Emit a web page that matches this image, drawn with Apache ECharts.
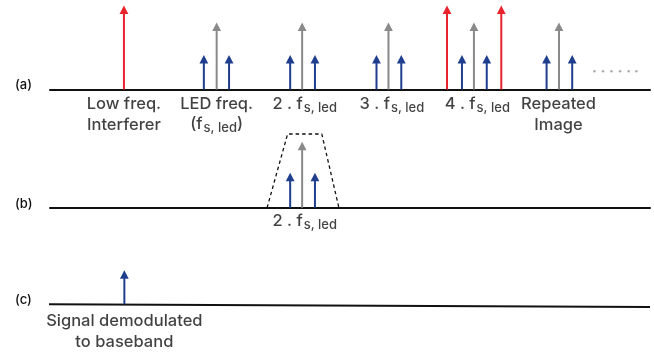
<!DOCTYPE html>
<html>
<head>
<meta charset="utf-8">
<script src="https://cdn.jsdelivr.net/npm/echarts@6/dist/echarts.min.js"></script>
<style>
  html, body { margin: 0; padding: 0; background: #fff; }
  #chart { width: 654px; height: 354px; }
</style>
</head>
<body>
<div id="chart"></div>
<script>
// ---- spectrum data (frequency in arbitrary units, amplitude in arbitrary units) ----
// (a) sampled spectrum
const carrierFreqA   = [19.5, 29.5, 39.6, 49.6, 59.55];
const carrierAmpA    = [67, 67, 67, 67, 67];
const sidebandFreqA  = [18.0, 20.95, 28.1, 31.0, 38.2, 41.1, 48.2, 51.1, 58.1, 61.1];
const sidebandAmpA   = [34.5, 34.5, 34.5, 34.5, 34.5, 34.5, 34.5, 34.5, 34.5, 34.5];
const interfFreqA    = [8.65, 46.45, 52.8];
const interfAmpA     = [84, 84, 84];
const ellipsisFreqA  = [63.7, 64.7, 65.7, 66.7, 67.7, 68.6];
const ellipsisAmpA   = [18.2, 18.2, 18.2, 18.2, 18.2, 18.2];
const labelFreqA     = [8.65, 19.5, 29.8, 40.0, 50.0, 59.5];
const labelTextA     = [
  'Low freq.\nInterferer',
  'LED freq.\n{p|(f}{s|s, led}{p|)}',
  '2 . f{s|s, led}',
  '3 . f{s|s, led}',
  '4 . f{s|s, led}',
  'Repeated\nImage'
];

// (b) band-pass filtered around the second harmonic
const carrierFreqB   = [29.5];
const carrierAmpB    = [66];
const sidebandFreqB  = [28.1, 31.0];
const sidebandAmpB   = [35, 35];
const filterFreqB    = [25.4, 27.8, 31.8, 33.8];
const filterAmpB     = [0, 73.7, 73.7, 0];
const labelFreqB     = [29.8];
const labelTextB     = ['2 . f{s|s, led}'];

// (c) demodulated signal
const signalFreqC    = [8.7];
const signalAmpC     = [34];
const labelFreqC     = [8.7];
const labelTextC     = ['Signal demodulated\nto baseband'];

const panelNames     = ['(a)', '(b)', '(c)'];

// ---- styles ----
const RED = '#e8232b', GREY = '#8a8a8a', BLUE = '#1f3f8e', INK = '#111111';
const FONT = 'Inter';
const X_MAX = 70.2;

function pairs(xs, ys) { return xs.map((x, i) => [x, ys[i]]); }

// vertical arrow (stem + triangular head) drawn from the frequency axis up to the amplitude
function arrowSeries(grid, data, color) {
  return {
    type: 'custom',
    xAxisIndex: grid, yAxisIndex: grid,
    data: data,
    renderItem: function (params, api) {
      const base = api.coord([api.value(0), 0]);
      const tip = api.coord([api.value(0), api.value(1)]);
      const headH = 8.5, headW = 8.8;
      return {
        type: 'group',
        children: [
          { type: 'line',
            shape: { x1: base[0], y1: base[1], x2: tip[0], y2: tip[1] + headH - 0.5 },
            style: { stroke: color, lineWidth: 2 } },
          { type: 'polygon',
            shape: { points: [[tip[0], tip[1]], [tip[0] - headW / 2, tip[1] + headH], [tip[0] + headW / 2, tip[1] + headH]] },
            style: { fill: color } }
        ]
      };
    },
    silent: true,
    z: 3
  };
}

const richStyles = {
  s: { fontFamily: FONT, fontSize: 13, fontWeight: 500, color: INK, lineHeight: 14, verticalAlign: 'bottom', padding: [0, 0, 0, 1] },
  p: { fontFamily: FONT, fontSize: 16.5, fontWeight: 500, color: INK, lineHeight: 20 }
};

function labelSeries(grid, xs, texts, distance) {
  return {
    type: 'scatter',
    xAxisIndex: grid, yAxisIndex: grid,
    symbolSize: 0,
    data: xs.map((x, i) => ({ value: [x, 0], name: texts[i] })),
    label: {
      show: true,
      position: 'bottom',
      distance: distance,
      formatter: p => p.name,
      fontFamily: FONT,
      fontSize: 16.5,
      fontWeight: 500,
      lineHeight: 20.5,
      color: INK,
      align: 'center',
      rich: richStyles
    },
    silent: true,
    z: 4
  };
}

function grid(top) { return { left: 50, width: 600, top: top, height: 89 }; }
function xAxis(gi, showLine) {
  return {
    type: 'value', gridIndex: gi, min: 0, max: X_MAX,
    axisLine: { show: showLine, onZero: false, lineStyle: { color: INK, width: 2 } },
    axisTick: { show: false }, axisLabel: { show: false }, splitLine: { show: false }
  };
}
function yAxis(gi) {
  return { type: 'value', gridIndex: gi, min: 0, max: 89, show: false };
}

const chart = echarts.init(document.getElementById('chart'), null, { renderer: 'canvas' });

chart.setOption({
  animation: false,
  backgroundColor: '#ffffff',
  grid: [grid(0.5), grid(118.7), grid(215.3)],
  xAxis: [xAxis(0, true), xAxis(1, true), xAxis(2, false)],
  yAxis: [yAxis(0), yAxis(1), yAxis(2)],
  series: [
    // (a)
    arrowSeries(0, pairs(interfFreqA, interfAmpA), RED),
    arrowSeries(0, pairs(carrierFreqA, carrierAmpA), GREY),
    arrowSeries(0, pairs(sidebandFreqA, sidebandAmpA), BLUE),
    {
      type: 'scatter', xAxisIndex: 0, yAxisIndex: 0,
      data: pairs(ellipsisFreqA, ellipsisAmpA),
      symbol: 'circle', symbolSize: 2.6,
      itemStyle: { color: '#9a9a9a' }, silent: true
    },
    labelSeries(0, labelFreqA, labelTextA, 4.5),
    // (b)
    {
      type: 'line', xAxisIndex: 1, yAxisIndex: 1,
      data: pairs(filterFreqB, filterAmpB),
      symbol: 'none',
      lineStyle: { color: INK, width: 1.3, type: [3.5, 3] },
      silent: true, z: 2
    },
    arrowSeries(1, pairs(carrierFreqB, carrierAmpB), GREY),
    arrowSeries(1, pairs(sidebandFreqB, sidebandAmpB), BLUE),
    labelSeries(1, labelFreqB, labelTextB, 3.5),
    // (c)
    arrowSeries(2, pairs(signalFreqC, signalAmpC), BLUE),
    labelSeries(2, labelFreqC, labelTextC, 6.5)
  ]
});

// panel tags and the slightly sloping baseline of panel (c)
const c0 = chart.convertToPixel({ gridIndex: 2 }, [0, 0]);
const c1 = chart.convertToPixel({ gridIndex: 2 }, [X_MAX, 0]);
const panelY = [chart.convertToPixel({ gridIndex: 0 }, [0, 0])[1],
                chart.convertToPixel({ gridIndex: 1 }, [0, 0])[1],
                c0[1]];
chart.setOption({
  graphic: [
    { type: 'line', shape: { x1: c0[0] - 1, y1: c0[1], x2: c1[0], y2: c1[1] + 2.6 },
      style: { stroke: INK, lineWidth: 2 }, silent: true, z: 1 }
  ].concat(panelNames.map((t, i) => ({
    type: 'text', left: 15, top: panelY[i] - 10.5,
    style: { text: t, fontFamily: FONT, fontSize: 13, fontWeight: 500, fill: INK },
    silent: true
  })))
});
</script>
</body>
</html>
